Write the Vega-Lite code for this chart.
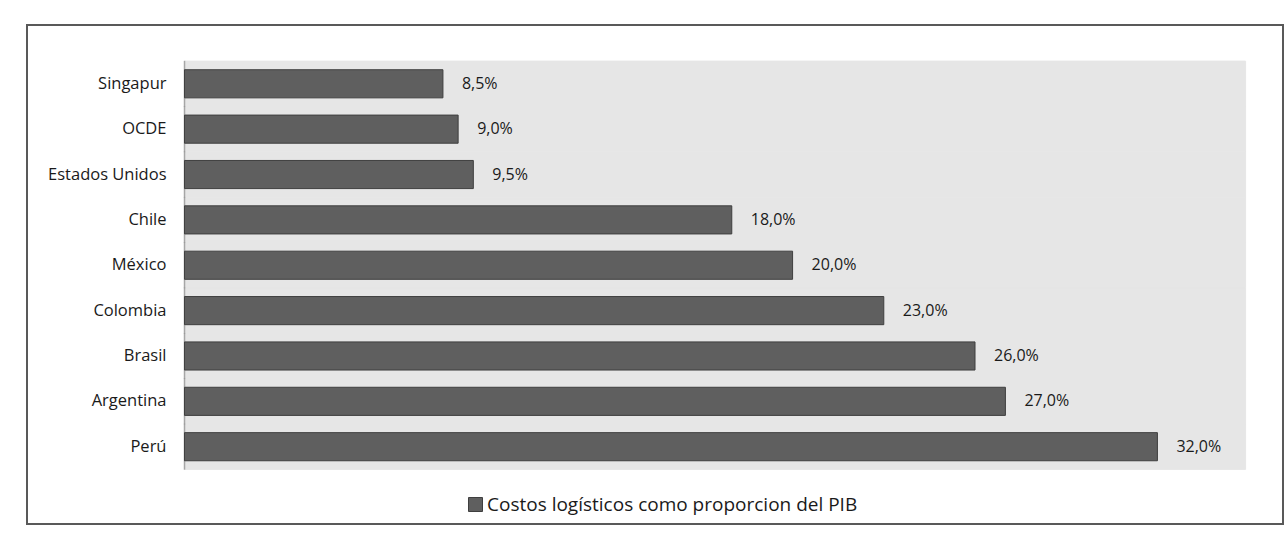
{
  "$schema": "https://vega.github.io/schema/vega-lite/v6.json",
  "width": 1256,
  "height": 499,
  "autosize": {"type": "none"},
  "padding": {"left": 27, "top": 25, "right": 5, "bottom": 9},
  "background": "white",
  "config": {
    "view": {"stroke": "#595959", "strokeWidth": 2},
    "font": "Open Sans",
    "locale": {"number": {"decimal": ",", "thousands": ".", "grouping": [3], "currency": ["", " €"]}}
  },
  "data": {
    "values": [
      {"pais": "Singapur", "valor": 0.085},
      {"pais": "OCDE", "valor": 0.09},
      {"pais": "Estados Unidos", "valor": 0.095},
      {"pais": "Chile", "valor": 0.18},
      {"pais": "México", "valor": 0.2},
      {"pais": "Colombia", "valor": 0.23},
      {"pais": "Brasil", "valor": 0.26},
      {"pais": "Argentina", "valor": 0.27},
      {"pais": "Perú", "valor": 0.32}
    ]
  },
  "encoding": {
    "y": {
      "field": "pais",
      "type": "nominal",
      "sort": null,
      "scale": {"paddingInner": 0, "paddingOuter": 1.031, "align": 0.398},
      "axis": {
        "title": null,
        "orient": "left",
        "offset": -158,
        "domain": false,
        "ticks": false,
        "grid": false,
        "labelPadding": 19,
        "labelFont": "Open Sans",
        "labelFontSize": 16.5,
        "labelColor": "#1a1a1a"
      }
    }
  },
  "layer": [
    {
      "mark": {"type": "bar", "color": "#e6e6e6", "stroke": "#e6e6e6", "strokeWidth": 1},
      "encoding": {
        "x": {"datum": 0, "type": "quantitative", "scale": {"domain": [-0.0518, 0.3613], "nice": false, "zero": false}, "axis": null},
        "x2": {"datum": 0.349}
      }
    },
    {
      "mark": {"type": "tick", "orient": "vertical", "size": 46, "thickness": 1.5, "color": "#8a8a8a"},
      "encoding": {
        "x": {"datum": 0, "type": "quantitative", "scale": {"domain": [-0.0518, 0.3613], "nice": false, "zero": false}, "axis": null}
      }
    },
    {
      "mark": {"type": "bar", "height": {"band": 0.62}, "stroke": "#3f3f3f", "strokeWidth": 1},
      "encoding": {
        "x": {"field": "valor", "type": "quantitative", "scale": {"domain": [-0.0518, 0.3613], "nice": false, "zero": false}, "axis": null},
        "x2": {"datum": 0},
        "color": {
          "datum": "Costos logísticos como proporcion del PIB",
          "scale": {"range": ["#5f5f5f"]},
          "legend": {
            "orient": "none",
            "legendX": 439,
            "legendY": 470,
            "title": null,
            "padding": 0,
            "symbolType": "square",
            "symbolSize": 196,
            "symbolStrokeColor": "#3f3f3f",
            "symbolStrokeWidth": 1,
            "symbolOpacity": 1,
            "labelFont": "Open Sans",
            "labelFontSize": 19,
            "labelLimit": 600,
            "labelColor": "#1a1a1a",
            "labelOffset": 2
          }
        }
      }
    },
    {
      "mark": {"type": "text", "align": "left", "baseline": "middle", "dx": 19, "fontSize": 16, "font": "Open Sans", "color": "#1a1a1a"},
      "encoding": {
        "x": {"field": "valor", "type": "quantitative", "scale": {"domain": [-0.0518, 0.3613], "nice": false, "zero": false}, "axis": null},
        "text": {"field": "valor", "type": "quantitative", "format": ".1%"}
      }
    }
  ]
}
